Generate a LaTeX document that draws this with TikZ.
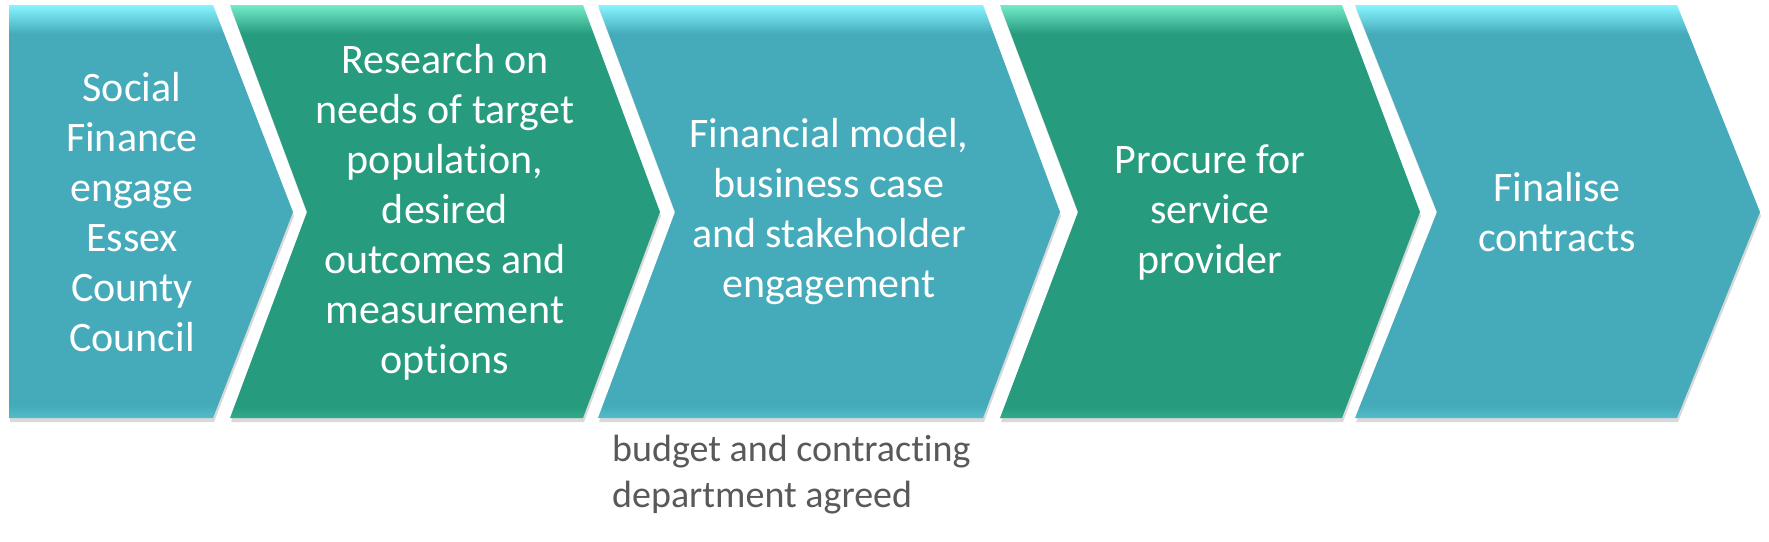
\documentclass[tikz,border=0pt]{standalone}
\usepackage{fontspec}
\setmainfont{Carlito}[Ligatures=CommonOff]
\usetikzlibrary{shadows}

\definecolor{stepblue}{RGB}{69,171,186}
\definecolor{bluehi}{RGB}{135,245,255}
\definecolor{bluelo}{RGB}{82,188,202}
\definecolor{stepgreen}{RGB}{38,155,126}
\definecolor{greenhi}{RGB}{115,235,200}
\definecolor{greenlo}{RGB}{48,170,138}
\definecolor{notegray}{RGB}{89,89,89}

\pgfdeclareverticalshading{bluebevel}{100bp}{color(0bp)=(bluelo); color(25bp)=(bluelo); color(26.5bp)=(stepblue); color(71.5bp)=(stepblue); color(75bp)=(bluehi); color(100bp)=(bluehi)}
\pgfdeclareverticalshading{greenbevel}{100bp}{color(0bp)=(greenlo); color(25bp)=(greenlo); color(26.5bp)=(stepgreen); color(71.5bp)=(stepgreen); color(75bp)=(greenhi); color(100bp)=(greenhi)}

\begin{document}
\begin{tikzpicture}[x=1pt, y=-1pt,
    bluestep/.style={shading=bluebevel, drop shadow={shadow xshift=1pt, shadow yshift=-4pt, opacity=.3}},
    greenstep/.style={shading=greenbevel, drop shadow={shadow xshift=1pt, shadow yshift=-4pt, opacity=.3}},
    steptext/.style={text=white, align=center, font=\fontsize{42}{50}\selectfont},
    note/.style={text=notegray, align=left, inner sep=0pt, font=\fontsize{38}{46}\selectfont}]
            \useasboundingbox (0,0) rectangle (1769,541);
            \shade[bluestep] (9,5) -- (213,5) -- (293,212) -- (213,418) -- (9,418) -- cycle;
            \shade[greenstep] (230,5) -- (583,5) -- (660,212) -- (583,418) -- (230,418) -- (307,212) -- cycle;
            \shade[bluestep] (598,5) -- (983,5) -- (1060,212) -- (983,418) -- (598,418) -- (675,212) -- cycle;
            \shade[greenstep] (1000,5) -- (1342,5) -- (1420,212) -- (1342,418) -- (1000,418) -- (1078,212) -- cycle;
            \shade[bluestep] (1355,5) -- (1677,5) -- (1760,212) -- (1677,418) -- (1355,418) -- (1437,212) -- cycle;
            \node[steptext] (1) at (132,212) {Social\\Finance\\engage\\Essex\\County\\Council};
            \node[steptext] (2) at (445,212) {Research on\\needs of target\\population,\\desired\\outcomes and\\measurement\\options};
            \node[steptext] (3) at (829,212) {Financial model,\\business case\\and stakeholder\\engagement};
            \node[steptext] (4) at (1210,212) {Procure for\\service\\provider};
            \node[steptext] (5) at (1557,212) {Finalise\\contracts};
            \node[note, anchor=north west] (budget) at (612,435) {budget and contracting\\department agreed};
        \end{tikzpicture}
\end{document}
